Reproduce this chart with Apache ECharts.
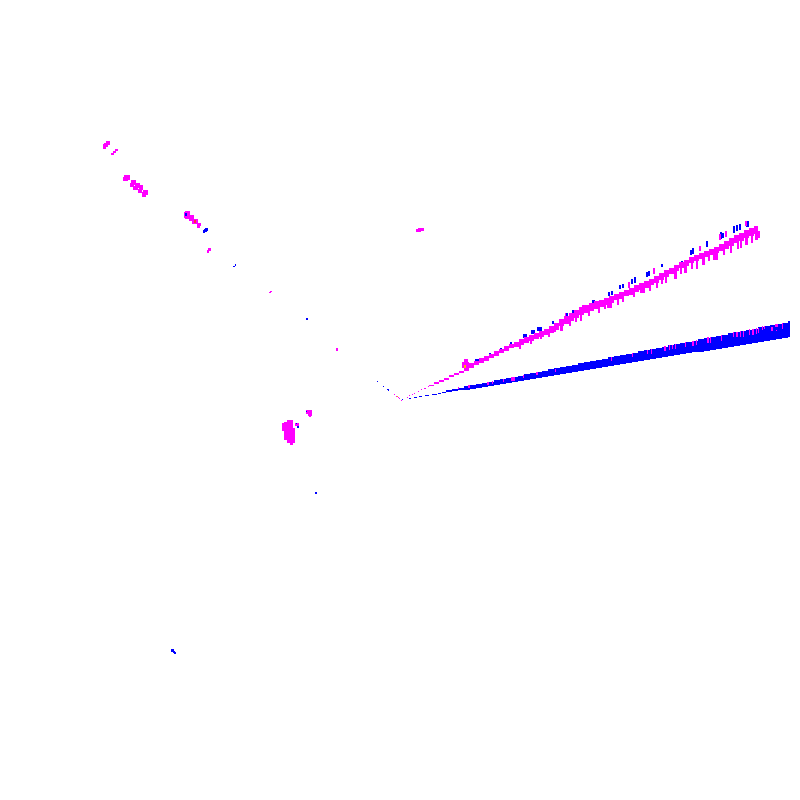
<!DOCTYPE html>
<html>
<head>
<meta charset="utf-8">
<style>html,body{margin:0;padding:0;background:#fff}#c{width:800px;height:800px}</style>
<script src="https://cdn.jsdelivr.net/npm/echarts@6/dist/echarts.min.js"></script>
</head>
<body>
<div id="c"></div>
<script>
const wedgeX=[446,452,458,464,470,476,482,488,494,500,506,512,518,524,530,536,542,548,554,560,566,572,578,584,590,596,602,608,614,620,626,632,638,644,650,656,662,668,674,680,686,692,698,704,710,716,722,728,734,740,746,752,758,764,770,776,782,788];
const wedgeTop=[390,389,388,386,385,384,383,382,380,379,378,377,376,374,373,372,371,369,368,367,366,365,363,362,361,360,359,357,356,355,354,353,351,350,349,348,347,345,344,343,342,341,339,338,337,336,335,333,332,331,330,329,327,326,325,324,323,321];
const wedgeBottom=[392,391,390,390,389,388,387,386,385,384,383,382,381,380,379,378,377,376,375,374,373,372,371,370,369,368,367,366,365,364,363,362,361,360,359,358,357,356,355,354,353,352,352,351,350,349,348,347,346,345,344,343,342,341,340,339,338,337];
const wedgeStart=[[409,398,411,399],[414,397,417,398],[419,396,422,397],[425,395,429,396],[432,394,437,395],[438,393,441,394],[442,392,446,393]];
const wedgeTicks=[[458,387,459,389],[468,385,470,388],[487,382,489,385],[492,381,493,384],[503,379,504,382],[511,377,515,381],[523,375,524,378],[536,372,538,375],[555,369,556,372],[611,357,612,361],[632,353,633,357],[647,350,648,354],[651,349,652,354],[664,346,666,351],[669,345,670,350],[672,345,673,349],[675,344,676,349],[685,342,686,347],[692,341,694,346],[696,340,697,345],[707,337,709,343],[710,337,711,343],[721,335,722,341],[733,332,734,337],[736,332,738,337],[740,331,741,337],[743,331,744,337],[749,329,750,335],[752,329,754,335],[756,328,757,334],[758,328,759,333],[762,326,763,330],[764,326,765,329],[771,327,773,331],[775,324,778,327],[776,330,777,331],[782,323,783,329]];
const bandX=[429,434,439,444,449,454,459,464,469,474,479,484,489,494,499,504,509,514,519,524,529,534,539,544,549,554,559,564,569,574,579,584,589,594,599,604,609,614,619,624,629,634,639,644,649,654,659,664,669,674,679,684,689,694,699,704,709,714,719,724,729,734,739,744,749,754,758];
const bandTop=[385,382,380,378,375,373,371,368,363,361,358,356,354,351,349,346,344,342,339,337,335,333,331,329,326,323,319,316,313,310,307,305,303,301,300,298,296,294,292,290,288,285,283,281,279,276,273,270,268,265,262,260,257,255,253,251,249,247,244,241,238,235,233,230,228,226,231];
const bandBottom=[386,384,382,380,377,375,373,371,368,365,363,361,358,356,353,351,348,347,345,343,341,339,337,335,333,330,326,324,321,318,315,313,311,309,307,305,303,300,299,296,295,292,290,288,285,283,280,277,274,271,268,266,263,261,259,257,255,253,251,249,246,243,241,238,236,234,236];
const bandStart=[[407,397,408,398],[409,395,410,396],[412,394,413,395],[414,393,415,394],[418,391,419,392],[421,389,422,390],[424,388,426,389],[428,386,429,387]];
const bandBlueTicks=[[475,359,479,363],[489,353,491,355],[500,348,502,350],[510,342,512,344],[523,334,527,338],[531,330,535,334],[537,327,542,331],[552,321,554,324],[566,313,568,317],[572,310,575,313],[592,300,595,304],[608,292,610,296],[611,291,613,295],[619,285,621,289],[622,284,624,288],[631,279,633,284],[634,277,636,283],[646,272,648,277],[648,271,650,276],[661,264,663,267],[681,261,683,265],[690,250,692,255],[692,248,694,254],[706,241,708,247],[720,232,722,239],[722,233,724,238],[733,226,735,233],[736,225,738,231],[739,224,741,230],[746,221,749,227]];
const bandPinkTicks=[[519,343,521,349],[530,338,532,344],[540,333,542,339],[548,330,550,337],[554,326,556,332],[560,322,563,331],[569,318,571,326],[565,313,566,318],[575,314,577,322],[580,312,582,321],[582,305,584,310],[588,308,590,316],[598,304,600,313],[604,300,606,309],[607,300,612,308],[617,295,619,305],[622,293,624,302],[628,282,630,288],[633,288,635,297],[640,283,645,293],[649,280,651,291],[653,268,655,274],[656,278,658,288],[661,275,663,284],[665,272,667,283],[674,268,677,279],[680,265,682,274],[684,262,687,273],[691,261,693,269],[696,258,698,269],[699,246,701,251],[702,254,705,265],[708,252,710,261],[713,250,718,260],[719,234,721,240],[723,246,725,255],[725,231,727,237],[730,243,732,253],[737,238,739,249],[740,237,742,248],[745,221,747,226],[745,234,748,245],[751,232,753,243],[755,228,758,240],[757,231,760,238]];
const pinkBlobs=[[103,144,106,149],[104,143,108,147],[106,141,110,145],[111,153,114,155],[113,151,116,153],[115,149,118,151],[123,177,128,181],[124,175,130,180],[130,183,134,187],[131,180,136,185],[133,186,138,190],[135,183,140,188],[138,189,142,193],[139,185,143,190],[142,192,146,197],[143,190,148,195],[184,212,190,218],[185,211,190,219],[189,217,192,221],[190,215,194,219],[192,219,198,224],[197,224,200,228],[198,223,201,226],[207,250,209,253],[208,248,211,251],[269,292,271,293],[270,291,272,292],[336,348,338,351],[416,229,421,232],[418,228,424,231],[282,423,285,431],[284,422,287,440],[287,420,290,443],[290,420,293,445],[293,428,295,443],[295,423,299,426],[306,410,310,414],[308,410,312,416],[309,414,311,417],[462,362,469,368],[464,359,468,362],[394,394,395,395],[396,396,397,397],[398,397,399,398],[399,398,400,399],[401,400,402,401]];
const blueBlobs=[[185,213,187,216],[203,230,205,233],[204,229,207,232],[205,228,208,231],[233,266,235,267],[235,264,236,266],[306,318,308,320],[297,426,299,428],[296,423,297,424],[306,411,307,412],[315,492,317,494],[171,649,174,652],[173,651,175,653],[174,652,176,654],[377,381,378,382],[383,386,384,387],[387,389,389,390],[388,390,389,391],[402,399,403,400]];
const warmBlobs=[[194,220,196,223]];
const yellowBlobs=[[464,365,466,368],[397,396,398,397]];

const rectSeries=(rows,color)=>({
  type:'custom',coordinateSystem:'cartesian2d',silent:true,clip:false,
  data:rows,
  encode:{x:[0,2],y:[1,3]},
  renderItem:(params,api)=>{
    const a=api.coord([api.value(0),api.value(1)]);
    const b=api.coord([api.value(2),api.value(3)]);
    return {type:'rect',shape:{x:a[0],y:a[1],width:b[0]-a[0],height:b[1]-a[1]},style:{fill:color}};
  }
});
const wedgeRows=wedgeX.map((x,i)=>[x,wedgeTop[i],i+1<wedgeX.length?wedgeX[i+1]:790,wedgeBottom[i]]);
const bandRows=bandX.map((x,i)=>[x,bandTop[i],i+1<bandX.length?bandX[i+1]:760,bandBottom[i]]);

const chart=echarts.init(document.getElementById('c'),null,{renderer:'canvas',devicePixelRatio:1});
chart.setOption({
  animation:false,backgroundColor:'#fff',
  grid:{left:0,right:0,top:0,bottom:0},
  xAxis:{type:'value',min:0,max:800,show:false},
  yAxis:{type:'value',min:0,max:800,inverse:true,show:false},
  series:[
    rectSeries(wedgeRows,'#0000ff'),
    rectSeries(wedgeStart,'#0000ff'),
    rectSeries(wedgeTicks,'#ff00ff'),
    rectSeries(bandBlueTicks,'#0000ff'),
    rectSeries(bandRows,'#ff00ff'),
    rectSeries(bandStart,'#ff00ff'),
    rectSeries(bandPinkTicks,'#ff00ff'),
    rectSeries(pinkBlobs,'#ff00ff'),
    rectSeries(blueBlobs,'#0000ff'),
    rectSeries(warmBlobs,'#ff2a3c'),
    rectSeries(yellowBlobs,'#ffb400')
  ]
});
</script>
</body>
</html>
